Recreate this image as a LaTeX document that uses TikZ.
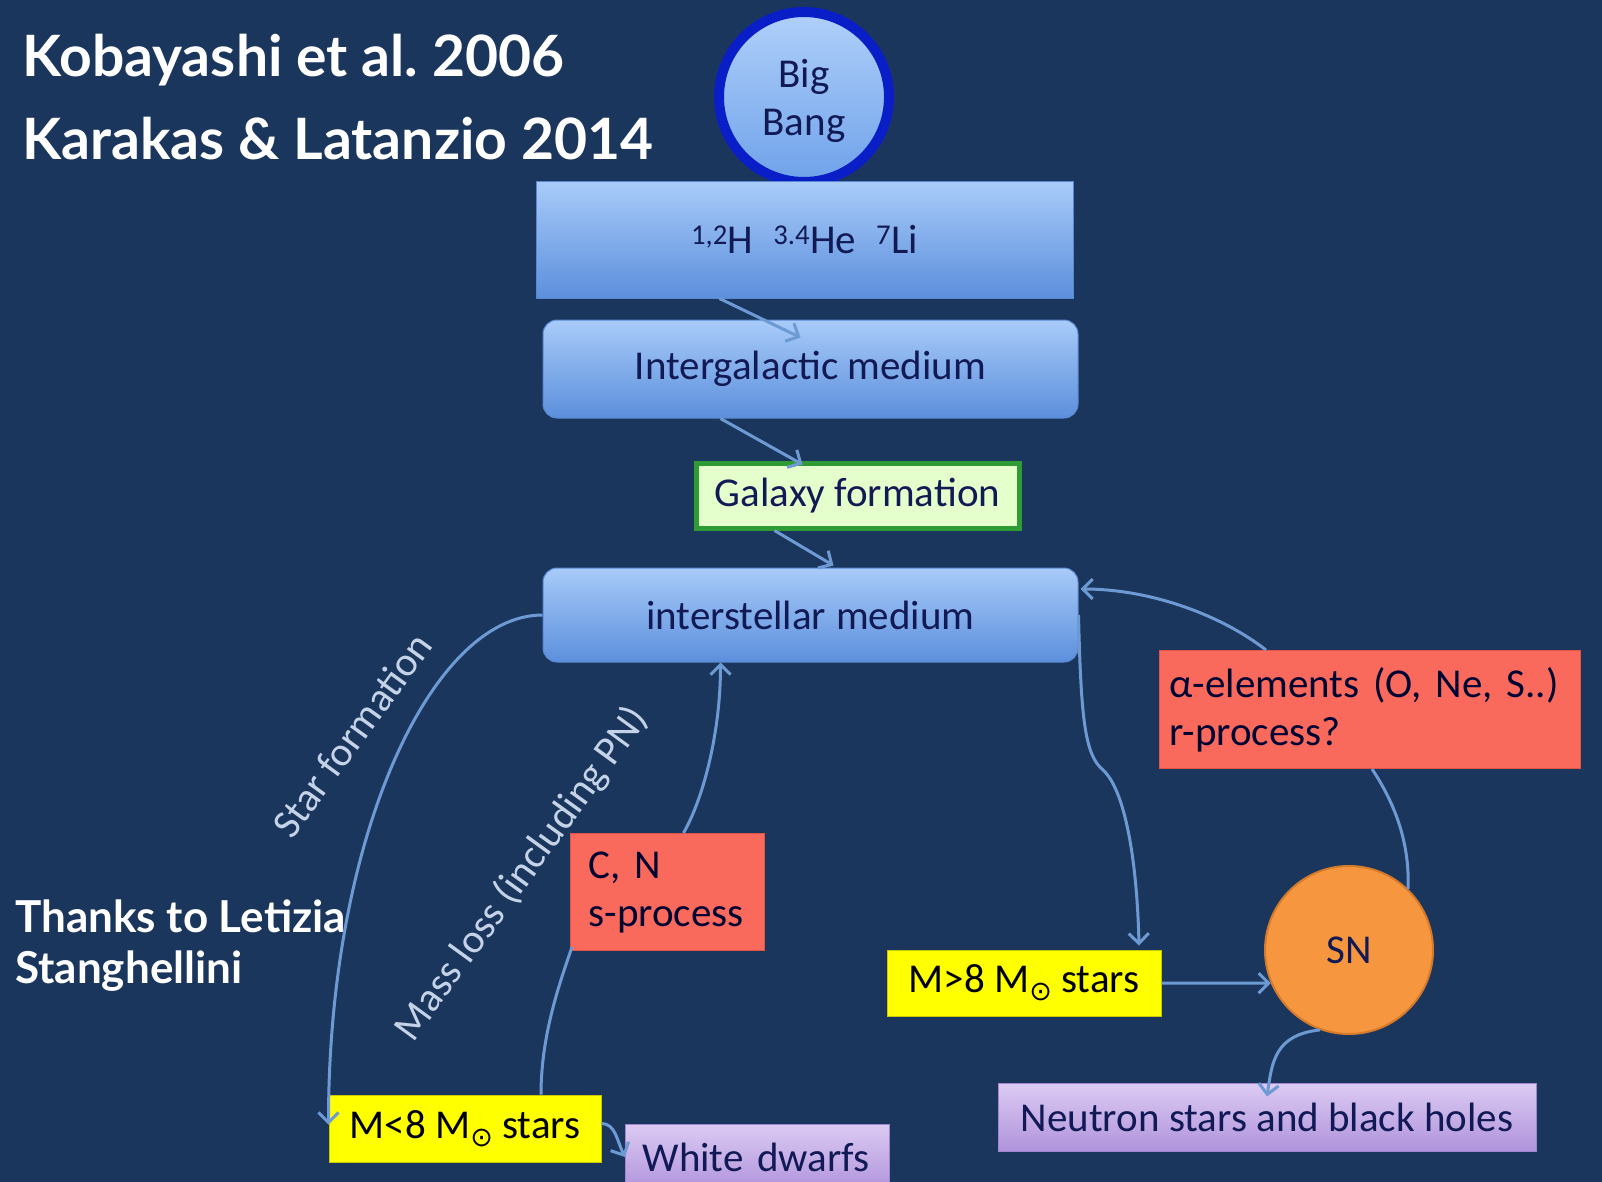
\documentclass[tikz,border=0pt]{standalone}
\usepackage{fontspec}
\setmainfont{Carlito}
\newfontfamily\titlefont{Lato}
\newfontfamily\odotfont{DejaVu Sans}
\usetikzlibrary{arrows.meta,calc}
\frenchspacing
\definecolor{bg}{HTML}{1B365D}
\definecolor{boxtop}{HTML}{A8CBF9}
\definecolor{boxbot}{HTML}{5C8FDC}
\definecolor{boxedge}{HTML}{5A88D0}
\definecolor{textc}{HTML}{111A55}
\definecolor{linkc}{HTML}{6E9AD4}
\definecolor{galfill}{HTML}{E4FFCB}
\definecolor{galedge}{HTML}{2E9B35}
\definecolor{redfill}{HTML}{FA6A5C}
\definecolor{rededge}{HTML}{E05545}
\definecolor{yelfill}{HTML}{FFFF00}
\definecolor{yeledge}{HTML}{C8C800}
\definecolor{purtop}{HTML}{DCCBF3}
\definecolor{purbot}{HTML}{B093DB}
\definecolor{puredge}{HTML}{9F86CF}
\definecolor{snfill}{HTML}{F6963F}
\definecolor{snedge}{HTML}{D47A2A}
\definecolor{ring}{HTML}{0A1EC8}
\definecolor{bbtop}{HTML}{B0D0FA}
\definecolor{bbbot}{HTML}{6FA2EA}
\definecolor{lblc}{HTML}{C5D3E8}
\newcommand{\msun}{M\raisebox{-0.2em}{\odotfont\fontsize{27}{27}\selectfont ⊙}}
\tikzset{
  dtxt/.style={text=textc, font=\fontsize{41}{48}\selectfont, inner sep=0pt},
  bluebox/.style={rectangle, dtxt, draw=boxedge, line width=1pt, top color=boxtop, bottom color=boxbot},
  galbox/.style={rectangle, dtxt, draw=galedge, line width=5pt, fill=galfill},
  redbox/.style={rectangle, dtxt, text=black!80!blue, draw=rededge, line width=1pt, fill=redfill},
  yelbox/.style={rectangle, dtxt, text=black, draw=yeledge, line width=1pt, fill=yelfill},
  purbox/.style={rectangle, dtxt, draw=puredge, line width=1pt, top color=purtop, bottom color=purbot},
  sncirc/.style={circle, dtxt, draw=snedge, line width=2pt, fill=snfill, minimum size=168pt},
  bbcirc/.style={circle, draw=ring, line width=10pt, top color=bbtop, bottom color=bbbot, minimum size=170pt},
  conn/.style={draw=linkc, line width=3pt, -{Straight Barb[length=10pt,width=20pt]}},
  link/.style={draw=linkc, line width=3pt},
  rotlbl/.style={text=lblc, font=\fontsize{41}{48}\selectfont, inner sep=0pt},
  ttl/.style={text=white, font=\titlefont\bfseries\fontsize{57}{66}\selectfont, inner sep=0pt, anchor=base west},
  thx/.style={text=white, font=\titlefont\bfseries\fontsize{44}{50}\selectfont, inner sep=0pt, anchor=base west}
}
\begin{document}
\begin{tikzpicture}[x=1pt,y=-1pt]
\path[use as bounding box, fill=bg] (0,0) rectangle (1602,1182);
\clip (0,0) rectangle (1602,1182);

% titles
\node[ttl] (t1) at (22,77) {Kobayashi et al. 2006};
\node[ttl] (t2) at (22,160) {Karakas \& Latanzio 2014};
\node[thx] (th1) at (15,932) {Thanks to Letizia};
\node[thx] (th2) at (15,983) {Stanghellini};

% nodes
\node[bbcirc] (bb) at (804,97) {};
\node[dtxt, align=center] (bbt) at (804,101) {Big\\Bang};
\node[bluebox, minimum width=537pt, minimum height=116pt] (b1) at (804.5,240)
  {\textsuperscript{1,2}H\hspace{20pt}\textsuperscript{3.4}He\hspace{20pt}\textsuperscript{7}Li};
\node[bluebox, rounded corners=14pt, minimum width=535pt, minimum height=98pt] (b2) at (810.5,369) {Intergalactic medium};
\node[galbox, minimum width=323pt, minimum height=65pt] (gal) at (857.5,495.5) {Galaxy formation};
\node[bluebox, rounded corners=14pt, minimum width=535pt, minimum height=94pt] (ism) at (810.5,615) {interstellar\hspace{10pt}medium};
\node[redbox, anchor=north west, minimum height=118pt, text width=401pt, inner xsep=10pt, align=left] (alpha) at (1159,650)
  {α-elements (O, Ne, S..)\\r-process?};
\node[redbox, anchor=north west, minimum height=117pt, text width=158pt, inner xsep=18pt, align=left] (cn) at (570,833)
  {C, N\\s-process};
\node[sncirc] (sn) at (1349,950) {SN};
\node[yelbox, minimum width=274pt, minimum height=66pt] (m8h) at (1024,983) {M>8 \msun{} stars};
\node[purbox, minimum width=538pt, minimum height=68pt] (neu) at (1267,1117) {Neutron stars and black holes};
\node[yelbox, minimum width=272pt, minimum height=67pt] (m8l) at (465,1128.5) {M<8 \msun{} stars};
\node[purbox, anchor=west, minimum width=264pt, minimum height=66pt, text width=230pt, inner xsep=17pt, align=left] (wd) at (625,1157) {White dwarfs};

% rotated labels
\node[rotlbl, rotate=54] (sf) at (352,735) {Star formation};
\node[rotlbl, rotate=54] (ml) at (522,874) {Mass loss (including PN)};

% connectors
\draw[conn] ($(b1.south)+(-85,0)$) -- ($(b2.north)+(-10,18)$);
\draw[conn] ($(b2.south)+(-90,0)$) -- ($(gal.north)+(-55,4)$);
\draw[conn] ($(gal.south)+(-83,0)$) -- ($(ism.north)+(23,-2)$);
\draw[conn] (ism.west) .. controls +(-110,0) and +(0,-290) .. ($(m8l.north west)+(0,30)$);
\draw[link] ($(m8l.north)+(76,0)$) .. controls +(0,-60) and +(-12,35) .. ($(cn.south west)+(2,-4)$);
\draw[conn] ($(cn.north)+(16,0)$) .. controls +(20,-35) and +(0,70) .. ($(ism.south)+(-90,0)$);
\draw[conn] (ism.east) .. controls (1081,720) and (1085,755) .. (1103,770)
   .. controls (1125,790) and (1137,860) .. ($(m8h.north)+(115,-4)$);
\draw[conn] ($(alpha.north)+(-104,0)$) .. controls +(-45,-35) and +(70,0) .. ($(ism.east)+(2,-26)$);
\draw[link] (sn.46) .. controls +(2,-50) and +(20,30) .. ($(alpha.south)+(2,0)$);
\draw[conn] (m8h.east) -- (sn.203);
\draw[conn] (sn.250) .. controls +(-45,5) and +(5,-35) .. ($(neu.north)+(0,14)$);
\draw[conn] ($(m8l.east)+(0,-5)$) .. controls +(14,0) and +(-8,-16) .. (wd.west);
\end{tikzpicture}
\end{document}
